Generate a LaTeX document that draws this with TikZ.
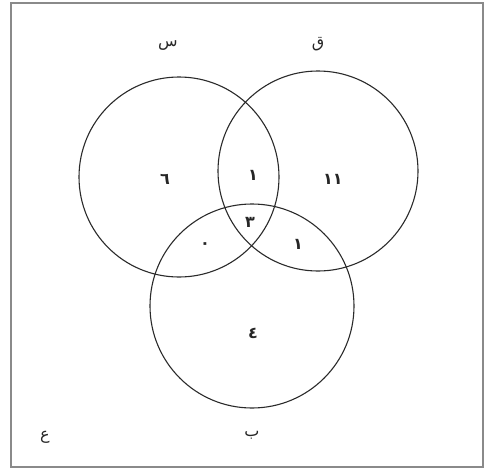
\documentclass[tikz,border=0pt]{standalone}
\usepackage{fontspec}
\usepackage{xcolor}
\usepackage{tikz}
\usetikzlibrary{positioning}
\newfontfamily\arabicfont[Script=Arabic]{DejaVu Sans}
\TeXXeTstate=1
\definecolor{framec}{HTML}{8A8A8A}
\definecolor{linec}{HTML}{2A2A2A}
\tikzset{
  setc/.style={circle,draw=linec,line width=1.1pt,minimum size=200pt,inner sep=0pt},
  setname/.style={font=\arabicfont\fontsize{16}{18}\selectfont,text=black!85,inner sep=1pt},
  countlbl/.style={font=\arabicfont\bfseries\fontsize{16}{18}\selectfont,text=black!85,inner sep=1pt}
}
\newcommand{\ar}[1]{\beginR #1\endR}

\begin{document}
\begin{tikzpicture}[x=1pt,y=-1pt]
\useasboundingbox (0,0) rectangle (485,472);
\draw[framec,line width=2pt] (11,3) rectangle (483,467);
% the three sets
\node[setc] (setS) at (179,177) {};
\node[setc] (setQ) at (318,171) {};
\node[setc,minimum size=204pt] (setB) at (252,306) {};
% set names
\node[setname] (nameS) at (168,46) {\ar{س}};
\node[setname] (nameQ) at (318,44) {\ar{ق}};
\node[setname] (nameB) at (252,435) {\ar{ب}};
\node[setname] (nameU) at (45,437) {\ar{ع}};
% counts in the regions
\node[countlbl] (onlyS) at (165,179) {\ar{٦}};
\node[countlbl] (SQ) at (253,175) {\ar{١}};
\node[countlbl] (onlyQ) at (333,179) {\ar{١١}};
\node[countlbl] (SQB) at (250,222) {\ar{٣}};
\node[countlbl] (SB) at (205,246) {\ar{٠}};
\node[countlbl] (QB) at (298,244) {\ar{١}};
\node[countlbl] (onlyB) at (253,333) {\ar{٤}};
\end{tikzpicture}
\end{document}
